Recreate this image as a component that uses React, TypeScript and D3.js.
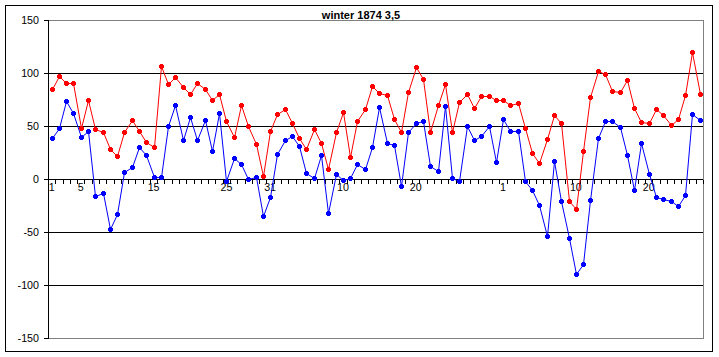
import React from "react";
import * as d3 from "d3";

const title = "winter 1874 3,5";
const redValues = [85,97,91,91,48,75,47,44,28,22,44,56,45,35,30,107,90,96,87,80,91,85,75,
  80,55,40,70,50,33,3,45,61,66,53,39,28,47,34,10,44,63,21,55,66,88,
  81,79,57,44,82,106,94,44,70,90,44,73,80,67,78,78,75,75,70,72,48,25,
  15,38,60,53,-21,-28,27,77,102,99,83,82,93,67,54,53,66,60,51,57,79,120,80];
const blueValues = [39,48,74,62,40,45,-16,-13,-47,-33,7,11,30,23,2,2,50,70,37,59,37,56,27,
  62,-2,20,14,0,2,-35,-17,24,37,41,31,6,1,23,-32,5,-1,1,14,10,30,
  68,34,32,-6,44,53,55,12,8,69,1,-2,50,37,41,50,16,57,45,45,-2,-10,
  -24,-54,17,-21,-55,-89,-80,-20,39,55,55,49,23,-10,34,5,-17,-19,-21,-25,-15,61,56];
const xLabelIndex = [0, 4, 14, 24, 30, 40, 50, 62, 72, 82];
const xLabelText = ["1", "5", "15", "25", "31", "10", "20", "1", "10", "20"];
const yTicks = [-150, -100, -50, 0, 50, 100, 150];

const W = 719, H = 357;
const L = 48, R = 703.3, T = 20, B = 338.3;

function Marker({ x, y, color }: { x: number; y: number; color: string }) {
  const cx = Math.round(x), cy = Math.round(y);
  return (
    <g fill={color} shapeRendering="crispEdges">
      <rect x={cx - 2} y={cy - 1} width={5} height={3} />
      <rect x={cx - 1} y={cy - 2} width={3} height={5} />
    </g>
  );
}

export default function App() {
  const n = redValues.length;
  const x = d3.scaleLinear().domain([-0.5, n - 0.5]).range([L, R]);
  const y = d3.scaleLinear().domain([-150, 150]).range([B, T]);
  const line = d3.line<number>().x((_, i) => Math.round(x(i)) + 0.5).y((d) => Math.round(y(d)) + 0.5);
  const font = "'Liberation Sans', Arial, sans-serif";
  const y0 = Math.round(y(0)) + 0.5;

  return (
    <div style={{ position: "absolute", left: 0, top: 0 }}>
      <svg width={W} height={H} style={{ display: "block", background: "#fff" }}>
        <rect x={0} y={0} width={W} height={H} fill="#fff" />
        <g shapeRendering="crispEdges">
          <rect x={5.5} y={5.5} width={706.5} height={346} fill="none" stroke="#000" strokeWidth={1} />
          <rect x={L + 0.5} y={T + 0.5} width={R - L} height={B - T - 0.5} fill="none" stroke="#808080" strokeWidth={1} />
          {yTicks.filter((t) => t !== -150 && t !== 0).map((t) => (
            <line key={t} x1={L} x2={R} y1={Math.round(y(t)) + 0.5} y2={Math.round(y(t)) + 0.5} stroke={t === 150 ? "#808080" : "#000"} strokeWidth={1} />
          ))}
          <line x1={L + 0.5} x2={L + 0.5} y1={T} y2={B} stroke="#000" />
          {yTicks.map((t) => (
            <line key={t} x1={L - 4} x2={L + 0.5} y1={Math.round(y(t)) + 0.5} y2={Math.round(y(t)) + 0.5} stroke="#000" />
          ))}
          <line x1={L} x2={R} y1={y0} y2={y0} stroke="#000" />
          {d3.range(n + 1).map((k) => {
            const xx = Math.round(x(k - 0.5)) + 0.5;
            return <line key={k} x1={xx} x2={xx} y1={y0} y2={y0 + 4} stroke="#000" />;
          })}
        </g>
        {yTicks.map((t) => (
          <text key={t} x={39} y={y(t) + 4} textAnchor="end" fontFamily={font} fontSize={10.7} fill="#000">{t}</text>
        ))}
        {xLabelIndex.map((idx, j) => (
          <text key={j} x={x(idx)} y={191} textAnchor="middle" fontFamily={font} fontSize={10.7} fill="#000">{xLabelText[j]}</text>
        ))}
        <path d={line(blueValues) || ""} fill="none" stroke="#0000ff" strokeWidth={1} />
        {blueValues.map((v, i) => <Marker key={"b" + i} x={x(i)} y={y(v)} color="#0000ff" />)}
        <path d={line(redValues) || ""} fill="none" stroke="#ff0000" strokeWidth={1} />
        {redValues.map((v, i) => <Marker key={"r" + i} x={x(i)} y={y(v)} color="#ff0000" />)}
        <text x={361} y={19} textAnchor="middle" fontFamily={font} fontSize={11} fontWeight="bold" fill="#000">{title}</text>
      </svg>
    </div>
  );
}
